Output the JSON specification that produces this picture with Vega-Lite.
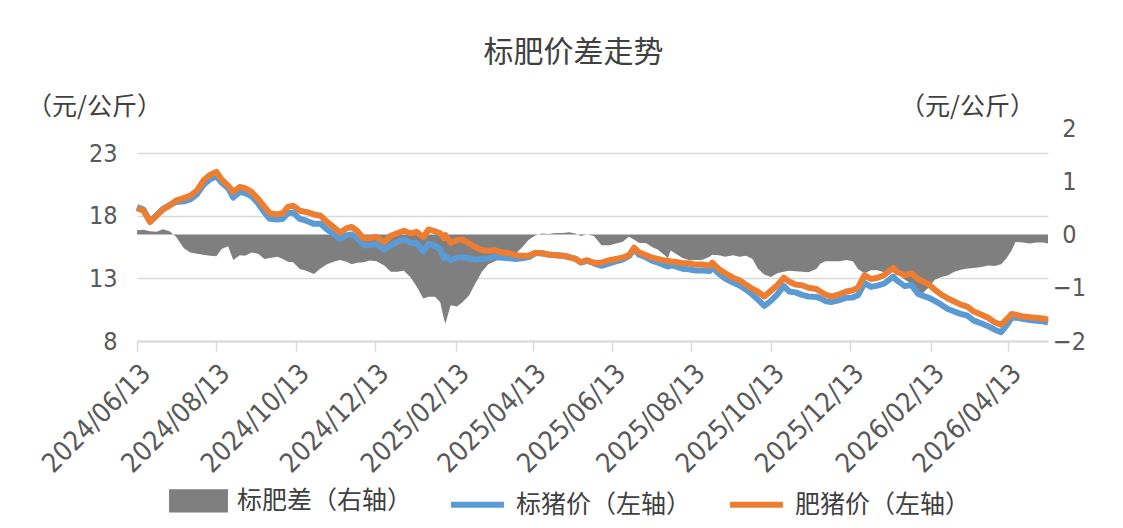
{
  "$schema": "https://vega.github.io/schema/vega-lite/v6.json",
  "width": 911,
  "height": 213,
  "autosize": {"type": "none"},
  "padding": {"left": 137, "top": 128, "right": 75, "bottom": 187},
  "background": "white",
  "config": {"view": {"stroke": null}},
  "title": {
    "text": "标肥价差走势",
    "font": "Noto Sans CJK SC",
    "fontSize": 30,
    "fontWeight": "normal",
    "color": "#404040",
    "anchor": "middle",
    "frame": "group",
    "dx": -19,
    "offset": 26
  },
  "data": {"values": [
    {"date":"2024-06-13","biao":18.7,"fei":18.6,"spread":0.08},
    {"date":"2024-06-18","biao":18.5,"fei":18.4,"spread":0.09},
    {"date":"2024-06-23","biao":17.55,"fei":17.5,"spread":0.06},
    {"date":"2024-06-28","biao":18.05,"fei":18.0,"spread":0.05},
    {"date":"2024-07-03","biao":18.55,"fei":18.5,"spread":0.1},
    {"date":"2024-07-08","biao":18.85,"fei":18.8,"spread":0.06},
    {"date":"2024-07-13","biao":19.1,"fei":19.2,"spread":-0.04},
    {"date":"2024-07-19","biao":19.15,"fei":19.4,"spread":-0.26},
    {"date":"2024-07-24","biao":19.3,"fei":19.6,"spread":-0.34},
    {"date":"2024-07-29","biao":19.7,"fei":20.0,"spread":-0.36},
    {"date":"2024-08-03","biao":20.45,"fei":20.8,"spread":-0.38},
    {"date":"2024-08-08","biao":20.9,"fei":21.25,"spread":-0.4},
    {"date":"2024-08-13","biao":21.15,"fei":21.5,"spread":-0.41},
    {"date":"2024-08-17","biao":20.65,"fei":20.9,"spread":-0.27},
    {"date":"2024-08-22","biao":20.2,"fei":20.4,"spread":-0.22},
    {"date":"2024-08-26","biao":19.45,"fei":19.9,"spread":-0.48},
    {"date":"2024-08-31","biao":19.9,"fei":20.3,"spread":-0.39},
    {"date":"2024-09-04","biao":19.8,"fei":20.2,"spread":-0.4},
    {"date":"2024-09-09","biao":19.55,"fei":19.9,"spread":-0.34},
    {"date":"2024-09-14","biao":19.0,"fei":19.35,"spread":-0.36},
    {"date":"2024-09-19","biao":18.25,"fei":18.7,"spread":-0.46},
    {"date":"2024-09-23","biao":17.75,"fei":18.2,"spread":-0.44},
    {"date":"2024-09-29","biao":17.7,"fei":18.1,"spread":-0.42},
    {"date":"2024-10-03","biao":17.75,"fei":18.2,"spread":-0.46},
    {"date":"2024-10-07","biao":18.2,"fei":18.7,"spread":-0.51},
    {"date":"2024-10-11","biao":18.25,"fei":18.8,"spread":-0.52},
    {"date":"2024-10-16","biao":17.75,"fei":18.4,"spread":-0.65},
    {"date":"2024-10-21","biao":17.6,"fei":18.3,"spread":-0.68},
    {"date":"2024-10-27","biao":17.35,"fei":18.1,"spread":-0.74},
    {"date":"2024-11-01","biao":17.35,"fei":18.0,"spread":-0.64},
    {"date":"2024-11-06","biao":16.9,"fei":17.5,"spread":-0.56},
    {"date":"2024-11-11","biao":16.55,"fei":17.1,"spread":-0.51},
    {"date":"2024-11-16","biao":16.15,"fei":16.65,"spread":-0.48},
    {"date":"2024-11-21","biao":16.45,"fei":17.0,"spread":-0.51},
    {"date":"2024-11-25","biao":16.5,"fei":17.1,"spread":-0.56},
    {"date":"2024-11-29","biao":16.25,"fei":16.8,"spread":-0.53},
    {"date":"2024-12-04","biao":15.65,"fei":16.2,"spread":-0.52},
    {"date":"2024-12-09","biao":15.65,"fei":16.2,"spread":-0.49},
    {"date":"2024-12-14","biao":15.75,"fei":16.3,"spread":-0.5},
    {"date":"2024-12-20","biao":15.3,"fei":15.9,"spread":-0.58},
    {"date":"2024-12-25","biao":15.65,"fei":16.4,"spread":-0.7},
    {"date":"2024-12-30","biao":15.9,"fei":16.6,"spread":-0.7},
    {"date":"2025-01-04","biao":16.1,"fei":16.8,"spread":-0.68},
    {"date":"2025-01-09","biao":15.85,"fei":16.6,"spread":-0.8},
    {"date":"2025-01-14","biao":15.8,"fei":16.7,"spread":-0.98},
    {"date":"2025-01-19","biao":15.15,"fei":16.3,"spread":-1.2},
    {"date":"2025-01-23","biao":15.75,"fei":16.9,"spread":-1.17},
    {"date":"2025-01-28","biao":15.6,"fei":16.75,"spread":-1.17},
    {"date":"2025-02-01","biao":15.3,"fei":16.6,"spread":-1.27},
    {"date":"2025-02-04","biao":14.6,"fei":16.2,"spread":-1.6},
    {"date":"2025-02-05","biao":14.8,"fei":16.45,"spread":-1.67},
    {"date":"2025-02-09","biao":14.45,"fei":15.85,"spread":-1.33},
    {"date":"2025-02-14","biao":14.65,"fei":16.05,"spread":-1.35},
    {"date":"2025-02-18","biao":14.7,"fei":16.1,"spread":-1.27},
    {"date":"2025-02-23","biao":14.6,"fei":15.8,"spread":-1.15},
    {"date":"2025-02-28","biao":14.5,"fei":15.5,"spread":-0.92},
    {"date":"2025-03-05","biao":14.55,"fei":15.25,"spread":-0.7},
    {"date":"2025-03-10","biao":14.6,"fei":15.2,"spread":-0.56},
    {"date":"2025-03-15","biao":14.7,"fei":15.25,"spread":-0.5},
    {"date":"2025-03-21","biao":14.65,"fei":15.05,"spread":-0.44},
    {"date":"2025-03-26","biao":14.6,"fei":15.0,"spread":-0.4},
    {"date":"2025-03-31","biao":14.55,"fei":14.85,"spread":-0.36},
    {"date":"2025-04-05","biao":14.6,"fei":14.8,"spread":-0.24},
    {"date":"2025-04-10","biao":14.7,"fei":14.8,"spread":-0.1},
    {"date":"2025-04-15","biao":15.0,"fei":15.05,"spread":-0.02},
    {"date":"2025-04-20","biao":15.0,"fei":15.0,"spread":0.02},
    {"date":"2025-04-25","biao":14.9,"fei":14.9,"spread":0.01},
    {"date":"2025-05-01","biao":14.85,"fei":14.85,"spread":0.03},
    {"date":"2025-05-06","biao":14.8,"fei":14.8,"spread":0.03},
    {"date":"2025-05-11","biao":14.7,"fei":14.7,"spread":0.04},
    {"date":"2025-05-16","biao":14.55,"fei":14.55,"spread":0.02},
    {"date":"2025-05-20","biao":14.25,"fei":14.3,"spread":-0.03},
    {"date":"2025-05-25","biao":14.4,"fei":14.45,"spread":0.0},
    {"date":"2025-05-30","biao":14.2,"fei":14.25,"spread":-0.03},
    {"date":"2025-06-05","biao":14.0,"fei":14.25,"spread":-0.2},
    {"date":"2025-06-11","biao":14.2,"fei":14.45,"spread":-0.2},
    {"date":"2025-06-16","biao":14.35,"fei":14.55,"spread":-0.17},
    {"date":"2025-06-21","biao":14.5,"fei":14.65,"spread":-0.14},
    {"date":"2025-06-26","biao":14.78,"fei":14.85,"spread":-0.04},
    {"date":"2025-06-30","biao":15.3,"fei":15.45,"spread":-0.1},
    {"date":"2025-07-04","biao":14.88,"fei":15.05,"spread":-0.16},
    {"date":"2025-07-09","biao":14.68,"fei":14.85,"spread":-0.16},
    {"date":"2025-07-14","biao":14.4,"fei":14.65,"spread":-0.24},
    {"date":"2025-07-18","biao":14.27,"fei":14.55,"spread":-0.28},
    {"date":"2025-07-22","biao":14.1,"fei":14.45,"spread":-0.36},
    {"date":"2025-07-26","biao":13.95,"fei":14.4,"spread":-0.44},
    {"date":"2025-07-28","biao":14.05,"fei":14.35,"spread":-0.3},
    {"date":"2025-08-01","biao":13.95,"fei":14.3,"spread":-0.36},
    {"date":"2025-08-06","biao":13.77,"fei":14.2,"spread":-0.44},
    {"date":"2025-08-11","biao":13.73,"fei":14.2,"spread":-0.48},
    {"date":"2025-08-16","biao":13.63,"fei":14.1,"spread":-0.48},
    {"date":"2025-08-21","biao":13.62,"fei":14.1,"spread":-0.48},
    {"date":"2025-08-27","biao":13.58,"fei":14.0,"spread":-0.42},
    {"date":"2025-08-29","biao":13.88,"fei":14.25,"spread":-0.38},
    {"date":"2025-09-03","biao":13.37,"fei":13.75,"spread":-0.39},
    {"date":"2025-09-08","biao":12.98,"fei":13.4,"spread":-0.42},
    {"date":"2025-09-14","biao":12.66,"fei":13.05,"spread":-0.39},
    {"date":"2025-09-19","biao":12.43,"fei":12.85,"spread":-0.42},
    {"date":"2025-09-24","biao":12.1,"fei":12.5,"spread":-0.4},
    {"date":"2025-09-29","biao":11.69,"fei":12.15,"spread":-0.46},
    {"date":"2025-10-03","biao":11.32,"fei":11.95,"spread":-0.64},
    {"date":"2025-10-08","biao":10.8,"fei":11.55,"spread":-0.75},
    {"date":"2025-10-13","biao":11.2,"fei":12.0,"spread":-0.8},
    {"date":"2025-10-18","biao":11.72,"fei":12.45,"spread":-0.73},
    {"date":"2025-10-23","biao":12.4,"fei":13.05,"spread":-0.7},
    {"date":"2025-10-27","biao":11.95,"fei":12.75,"spread":-0.68},
    {"date":"2025-11-01","biao":11.88,"fei":12.5,"spread":-0.69},
    {"date":"2025-11-06","biao":11.68,"fei":12.45,"spread":-0.7},
    {"date":"2025-11-11","biao":11.55,"fei":12.25,"spread":-0.71},
    {"date":"2025-11-17","biao":11.52,"fei":12.15,"spread":-0.65},
    {"date":"2025-11-20","biao":11.4,"fei":11.95,"spread":-0.55},
    {"date":"2025-11-24","biao":11.18,"fei":11.7,"spread":-0.5},
    {"date":"2025-11-29","biao":11.12,"fei":11.55,"spread":-0.5},
    {"date":"2025-12-05","biao":11.27,"fei":11.75,"spread":-0.5},
    {"date":"2025-12-10","biao":11.46,"fei":11.95,"spread":-0.48},
    {"date":"2025-12-15","biao":11.48,"fei":12.05,"spread":-0.5},
    {"date":"2025-12-19","biao":11.65,"fei":12.25,"spread":-0.65},
    {"date":"2025-12-24","biao":12.63,"fei":13.25,"spread":-0.73},
    {"date":"2025-12-29","biao":12.32,"fei":12.95,"spread":-0.67},
    {"date":"2026-01-03","biao":12.42,"fei":13.05,"spread":-0.67},
    {"date":"2026-01-08","biao":12.57,"fei":13.25,"spread":-0.71},
    {"date":"2026-01-15","biao":13.14,"fei":13.85,"spread":-0.71},
    {"date":"2026-01-18","biao":12.82,"fei":13.5,"spread":-0.72},
    {"date":"2026-01-24","biao":12.38,"fei":13.25,"spread":-0.85},
    {"date":"2026-01-29","biao":12.48,"fei":13.4,"spread":-0.92},
    {"date":"2026-02-03","biao":11.78,"fei":12.95,"spread":-1.14},
    {"date":"2026-02-07","biao":11.6,"fei":12.75,"spread":-1.1},
    {"date":"2026-02-11","biao":11.47,"fei":12.55,"spread":-1.0},
    {"date":"2026-02-16","biao":11.2,"fei":12.1,"spread":-0.85},
    {"date":"2026-02-21","biao":10.9,"fei":11.7,"spread":-0.8},
    {"date":"2026-02-26","biao":10.56,"fei":11.4,"spread":-0.77},
    {"date":"2026-03-03","biao":10.35,"fei":11.15,"spread":-0.7},
    {"date":"2026-03-08","biao":10.17,"fei":10.9,"spread":-0.66},
    {"date":"2026-03-13","biao":10.02,"fei":10.75,"spread":-0.64},
    {"date":"2026-03-18","biao":9.63,"fei":10.35,"spread":-0.63},
    {"date":"2026-03-24","biao":9.4,"fei":10.1,"spread":-0.61},
    {"date":"2026-03-29","biao":9.18,"fei":9.85,"spread":-0.58},
    {"date":"2026-04-03","biao":8.9,"fei":9.5,"spread":-0.59},
    {"date":"2026-04-08","biao":8.7,"fei":9.3,"spread":-0.56},
    {"date":"2026-04-12","biao":9.22,"fei":9.7,"spread":-0.45},
    {"date":"2026-04-16","biao":9.85,"fei":10.15,"spread":-0.3},
    {"date":"2026-04-19","biao":9.88,"fei":10.1,"spread":-0.14},
    {"date":"2026-04-25","biao":9.75,"fei":9.95,"spread":-0.15},
    {"date":"2026-04-30","biao":9.68,"fei":9.9,"spread":-0.17},
    {"date":"2026-05-05","biao":9.62,"fei":9.85,"spread":-0.15},
    {"date":"2026-05-10","biao":9.57,"fei":9.8,"spread":-0.15},
    {"date":"2026-05-14","biao":9.47,"fei":9.7,"spread":-0.17}
  ]},
  "encoding": {
    "x": {
      "field": "date",
      "type": "temporal",
      "scale": {"type": "utc", "domain": [{"year": 2024, "month": 6, "date": 13, "utc": true}, {"year": 2026, "month": 5, "date": 14, "utc": true}]},
      "axis": {
        "title": null,
        "values": [
          {"year": 2024, "month": 6, "date": 13, "utc": true},
          {"year": 2024, "month": 8, "date": 13, "utc": true},
          {"year": 2024, "month": 10, "date": 13, "utc": true},
          {"year": 2024, "month": 12, "date": 13, "utc": true},
          {"year": 2025, "month": 2, "date": 13, "utc": true},
          {"year": 2025, "month": 4, "date": 13, "utc": true},
          {"year": 2025, "month": 6, "date": 13, "utc": true},
          {"year": 2025, "month": 8, "date": 13, "utc": true},
          {"year": 2025, "month": 10, "date": 13, "utc": true},
          {"year": 2025, "month": 12, "date": 13, "utc": true},
          {"year": 2026, "month": 2, "date": 13, "utc": true},
          {"year": 2026, "month": 4, "date": 13, "utc": true}
        ],
        "format": "%Y/%m/%d",
        "labelAngle": -45,
        "labelAlign": "right",
        "labelBaseline": "middle",
        "labelFont": "Liberation Sans Narrow, DejaVu Sans Condensed, Liberation Sans",
        "labelFontSize": 27,
        "labelColor": "#595959",
        "labelPadding": 18,
        "labelOffset": 9,
        "labelOverlap": false,
        "labelFlush": false,
        "tickColor": "#d9d9d9",
        "tickSize": 10,
        "tickWidth": 1.5,
        "domainColor": "#d9d9d9",
        "domainWidth": 2,
        "grid": false
      }
    }
  },
  "layer": [
    {
      "mark": {"type": "area", "color": "#7f7f7f", "opacity": 1, "interpolate": "linear"},
      "encoding": {
        "y": {
          "field": "spread",
          "type": "quantitative",
          "scale": {"domain": [-2, 2], "nice": false, "zero": false},
          "axis": {
            "orient": "right",
            "values": [-2, -1, 0, 1, 2],
            "grid": false,
            "domain": false,
            "ticks": false,
            "labelAlign": "center",
            "labelPadding": 21,
            "labelFont": "Liberation Sans Narrow, DejaVu Sans Condensed, Liberation Sans",
            "labelFontSize": 25,
            "labelColor": "#595959",
            "title": "（元/公斤）",
            "titleAngle": 0,
            "titleX": -81,
            "titleY": -22,
            "titleAlign": "center",
            "titleBaseline": "middle",
            "titleFont": "Noto Sans CJK SC",
            "titleFontSize": 25,
            "titleFontWeight": "normal",
            "titleColor": "#404040"
          }
        },
        "y2": {"datum": 0},
        "color": {
          "datum": "spread",
          "type": "nominal",
          "scale": {"domain": ["spread", "biao", "fei"], "range": ["#7f7f7f", "#5b9bd5", "#ed7d31"]},
          "legend": {
            "orient": "none",
            "legendX": 32,
            "legendY": 343,
            "direction": "horizontal",
            "title": null,
            "labelExpr": "datum.value == 'spread' ? '标肥差（右轴）' : (datum.value == 'biao' ? '标猪价（左轴）' : '肥猪价（左轴）')",
            "labelFont": "Noto Sans CJK SC",
            "labelFontSize": 25,
            "labelColor": "#404040",
            "labelLimit": 400,
            "labelOffset": 9,
            "columnPadding": 26,
            "symbolSize": 2800,
            "encode": {
              "symbols": {
                "update": {
                  "shape": {"signal": "datum.value == 'spread' ? 'M-1,-0.33H1V0.33H-1Z' : 'stroke'"},
                  "fill": {"signal": "datum.value == 'spread' ? '#7f7f7f' : 'transparent'"},
                  "stroke": {"signal": "datum.value == 'spread' ? 'transparent' : (datum.value == 'biao' ? '#5b9bd5' : '#ed7d31')"},
                  "strokeWidth": {"value": 6},
                  "opacity": {"value": 1}
                }
              }
            }
          }
        }
      }
    },
    {
      "layer": [
        {
          "mark": {"type": "line", "strokeWidth": 6, "strokeJoin": "round"},
          "encoding": {
            "y": {
              "field": "biao",
              "type": "quantitative",
              "scale": {"domain": [8, 25], "nice": false, "zero": false},
              "axis": {
                "orient": "left",
                "values": [8, 13, 18, 23],
                "grid": true,
                "gridColor": "#d9d9d9",
                "gridWidth": 1.5,
                "domain": false,
                "ticks": false,
                "labelPadding": 20,
                "labelFont": "Liberation Sans Narrow, DejaVu Sans Condensed, Liberation Sans",
                "labelFontSize": 25,
                "labelColor": "#595959",
                "title": "（元/公斤）",
                "titleAngle": 0,
                "titleX": -43,
                "titleY": -22,
                "titleAlign": "center",
                "titleBaseline": "middle",
                "titleFont": "Noto Sans CJK SC",
                "titleFontSize": 25,
                "titleFontWeight": "normal",
                "titleColor": "#404040"
              }
            },
            "color": {
              "datum": "biao",
              "type": "nominal",
              "scale": {"domain": ["spread", "biao", "fei"], "range": ["#7f7f7f", "#5b9bd5", "#ed7d31"]},
              "legend": {
                "orient": "none",
                "legendX": 32,
                "legendY": 343,
                "direction": "horizontal",
                "title": null,
                "labelExpr": "datum.value == 'spread' ? '标肥差（右轴）' : (datum.value == 'biao' ? '标猪价（左轴）' : '肥猪价（左轴）')",
                "labelFont": "Noto Sans CJK SC",
                "labelFontSize": 25,
                "labelColor": "#404040",
                "labelLimit": 400,
                "labelOffset": 9,
                "columnPadding": 26,
                "symbolSize": 2800,
                "encode": {
                  "symbols": {
                    "update": {
                      "shape": {"signal": "datum.value == 'spread' ? 'M-1,-0.33H1V0.33H-1Z' : 'stroke'"},
                      "fill": {"signal": "datum.value == 'spread' ? '#7f7f7f' : 'transparent'"},
                      "stroke": {"signal": "datum.value == 'spread' ? 'transparent' : (datum.value == 'biao' ? '#5b9bd5' : '#ed7d31')"},
                      "strokeWidth": {"value": 6},
                      "opacity": {"value": 1}
                    }
                  }
                }
              }
            }
          }
        },
        {
          "mark": {"type": "line", "strokeWidth": 6, "strokeJoin": "round"},
          "encoding": {
            "y": {
              "field": "fei",
              "type": "quantitative",
              "scale": {"domain": [8, 25], "nice": false, "zero": false}
            },
            "color": {
              "datum": "fei",
              "type": "nominal",
              "scale": {"domain": ["spread", "biao", "fei"], "range": ["#7f7f7f", "#5b9bd5", "#ed7d31"]},
              "legend": {
                "orient": "none",
                "legendX": 32,
                "legendY": 343,
                "direction": "horizontal",
                "title": null,
                "labelExpr": "datum.value == 'spread' ? '标肥差（右轴）' : (datum.value == 'biao' ? '标猪价（左轴）' : '肥猪价（左轴）')",
                "labelFont": "Noto Sans CJK SC",
                "labelFontSize": 25,
                "labelColor": "#404040",
                "labelLimit": 400,
                "labelOffset": 9,
                "columnPadding": 26,
                "symbolSize": 2800,
                "encode": {
                  "symbols": {
                    "update": {
                      "shape": {"signal": "datum.value == 'spread' ? 'M-1,-0.33H1V0.33H-1Z' : 'stroke'"},
                      "fill": {"signal": "datum.value == 'spread' ? '#7f7f7f' : 'transparent'"},
                      "stroke": {"signal": "datum.value == 'spread' ? 'transparent' : (datum.value == 'biao' ? '#5b9bd5' : '#ed7d31')"},
                      "strokeWidth": {"value": 6},
                      "opacity": {"value": 1}
                    }
                  }
                }
              }
            }
          }
        }
      ]
    }
  ],
  "resolve": {"scale": {"y": "independent"}}
}
